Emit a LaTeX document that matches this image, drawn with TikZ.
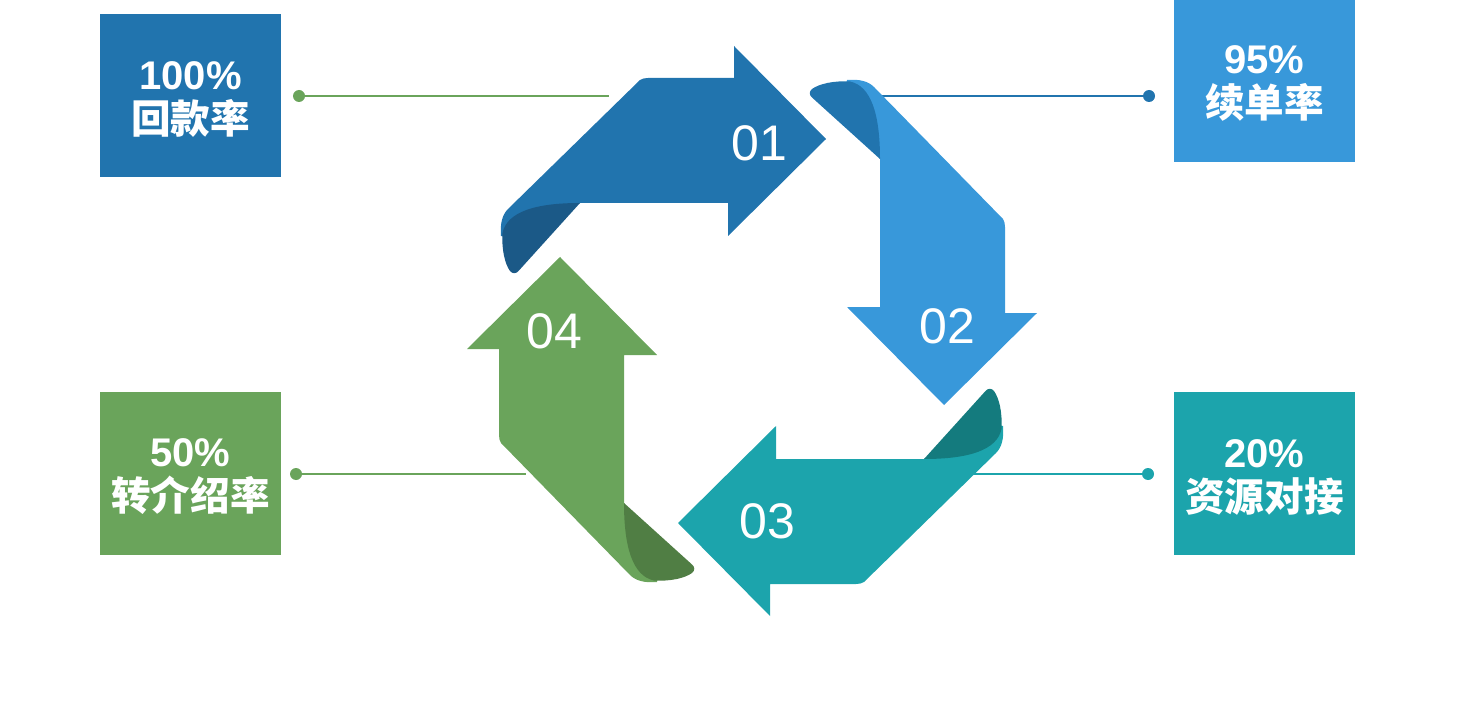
\documentclass[tikz,border=0pt]{standalone}
\usepackage{fontspec}
\setmainfont{Liberation Sans}
\newfontfamily\cjk{Noto Sans CJK SC}
\newfontfamily\numfont{Liberation Sans}
\definecolor{cA}{HTML}{2174AE}
\definecolor{cAd}{HTML}{1B5987}
\definecolor{cB}{HTML}{3898DA}
\definecolor{cT}{HTML}{1CA4AC}
\definecolor{cTd}{HTML}{147B7E}
\definecolor{cG}{HTML}{6AA45B}
\definecolor{cGd}{HTML}{507E44}
\tikzset{
  statbox/.style={rectangle, fill=#1, minimum width=90.5pt, minimum height=81.5pt, inner sep=0pt},
  boxtext/.style={inner sep=0pt, text=white, align=center, font={\fontsize{19.8pt}{21.5pt}\cjk\bfseries}},
  dotnode/.style={circle, fill=#1, minimum size=6pt, inner sep=0pt},
  link/.style={line width=0.65pt, draw=#1},
  numlabel/.style={text=white, inner sep=0pt, font={\fontsize{25pt}{30pt}\selectfont}},
}
\newcommand{\pct}[1]{{\numfont\bfseries\fontsize{20pt}{21.5pt}\selectfont #1}}
\newcommand{\ribbonarrow}[3]{%
  \begin{scope}[rotate around={#1:(752,331)}]
    \fill[#2] (648,78) -- (734,78) -- (734,46) -- (826,139) -- (728,236) -- (728,203) -- (580,203) -- (520,240) -- (501,236)
      .. controls (500,224) and (502,215) .. (508,209) -- (640,80) .. controls (642,78.6) and (645,78) .. (648,78) -- cycle;
    \fill[#3] (580,203) .. controls (535,203) and (507,212) .. (502.5,233)
      .. controls (501.5,250) and (505,264) .. (510,271)
      .. controls (512.5,274) and (516,274) .. (518.5,271) -- cycle;
  \end{scope}}
\begin{document}
\begin{tikzpicture}[x=0.5pt,y=-0.5pt]
\useasboundingbox (0,0) rectangle (1472,727);
% connectors
\node[dotnode=cG] (d1) at (299,96) {};
\coordinate (e1) at (609,96);
\draw[link=cG] (d1) -- (e1);
\node[dotnode=cA] (d2) at (1149,96) {};
\coordinate (e2) at (881,96);
\draw[link=cA] (e2) -- (d2);
\node[dotnode=cG] (d3) at (296,474) {};
\coordinate (e3) at (526,474);
\draw[link=cG] (d3) -- (e3);
\node[dotnode=cT] (d4) at (1148,474) {};
\coordinate (e4) at (972,474);
\draw[link=cT] (e4) -- (d4);
% ribbon arrows
\ribbonarrow{0}{cA}{cAd}
\ribbonarrow{-90}{cB}{cA}
\ribbonarrow{180}{cT}{cTd}
\ribbonarrow{90}{cG}{cGd}
% numbers
\node[numlabel] (n1) at (759,143.5) {01};
\node[numlabel] (n2) at (947.5,326.5) {02};
\node[numlabel] (n3) at (767,521.5) {03};
\node[numlabel] (n4) at (554,331) {04};
% stat boxes
\node[statbox=cA] (b1) at (190.5,95.5) {};
\node[statbox=cB] (b2) at (1264.5,81) {};
\node[statbox=cG] (b3) at (190.5,473) {};
\node[statbox=cT] (b4) at (1264.5,473) {};
\node[boxtext] (t1) at ([yshift=-2pt]b1.center) {\pct{100\%}\\[0.5pt]回款率};
\node[boxtext] (t2) at ([yshift=-1pt]b2.center) {\pct{95\%}\\[0.5pt]续单率};
\node[boxtext] (t3) at ([yshift=-2pt]b3.center) {\pct{50\%}\\[0.5pt]转介绍率};
\node[boxtext] (t4) at ([yshift=-2pt]b4.center) {\pct{20\%}\\[0.5pt]资源对接};
\end{tikzpicture}
\end{document}
